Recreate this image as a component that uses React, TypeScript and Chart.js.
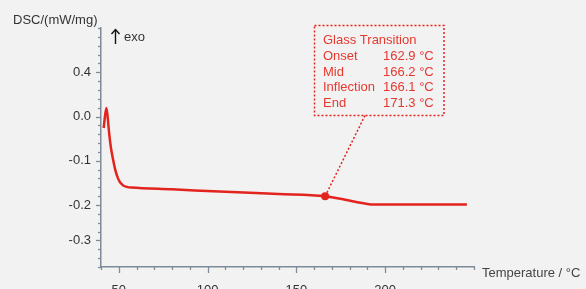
import React, { useEffect, useRef } from "react";
import { Chart, registerables } from "chart.js";
Chart.register(...registerables);

// DSC curve (temperature °C, DSC signal on the plotted linear scale)
const temperature = [41.5, 43.0, 43.6, 44.4, 45.5, 46.8, 48.0, 49.4, 50.5, 51.7, 53.0, 55, 57, 80, 110, 140, 166.2, 170, 176.3, 181, 185.9, 190, 193.3, 200, 246];
const dsc = [-0.026, 0.019, 0.005, -0.03, -0.068, -0.097, -0.12, -0.138, -0.147, -0.153, -0.157, -0.1595, -0.1605, -0.1645, -0.17, -0.1748, -0.18, -0.1825, -0.187, -0.191, -0.195, -0.1975, -0.199, -0.199, -0.199];

// Glass transition marker
const glassMidTemp = 166.2;
const glassMidDsc = -0.18;
const glassLabels = ["Onset", "Mid", "Inflection", "End"];
const glassValues = ["162.9 °C", "166.2 °C", "166.1 °C", "171.3 °C"];

// Axis ticks
const xMajorTicks = [50, 100, 150, 200];
const xMin = 40;
const xMax = 250;
const xMinorStep = 10;
const yMajorTickValues = [0.1, 0, -0.1, -0.2, -0.28];
const yMajorTickLabels = ["0.4", "0.0", "-0.1", "-0.2", "-0.3"];
const yMin = -0.34;
const yMax = 0.2;
const yMinorStep = 0.02;

const RED = "#e3231d";
const AXIS = "#7d8a97";
const TEXT = "#333333";
const BG = "#f2f2f2";
const FONT = "'Liberation Sans', Arial, sans-serif";

function findMajorY(v: number): number {
  for (let i = 0; i < yMajorTickValues.length; i++) {
    if (Math.abs(yMajorTickValues[i] - v) < 1e-6) return i;
  }
  return -1;
}

export default function App() {
  const ref = useRef<HTMLCanvasElement | null>(null);

  useEffect(() => {
    document.body.style.margin = "0";
    document.body.style.background = BG;
    const canvas = ref.current!;

    const decor = {
      id: "decor",
      beforeDraw(chart: any) {
        const ctx = chart.ctx;
        ctx.save();
        ctx.fillStyle = BG;
        ctx.fillRect(0, 0, chart.width, chart.height);
        ctx.restore();
      },
      afterDraw(chart: any) {
        const ctx = chart.ctx;
        const xs = chart.scales.x;
        const ys = chart.scales.y;
        const area = chart.chartArea;
        ctx.save();
        // tick marks
        ctx.strokeStyle = AXIS;
        ctx.lineWidth = 1.3;
        ys.ticks.forEach((t: any) => {
          const py = Math.round(ys.getPixelForValue(t.value)) + 0.5;
          const major = findMajorY(t.value) >= 0;
          ctx.beginPath();
          ctx.moveTo(area.left, py);
          ctx.lineTo(area.left - (major ? 5 : 3), py);
          ctx.stroke();
        });
        xs.ticks.forEach((t: any) => {
          const px = Math.round(xs.getPixelForValue(t.value)) + 0.5;
          const major = xMajorTicks.includes(t.value);
          ctx.beginPath();
          ctx.moveTo(px, area.bottom);
          ctx.lineTo(px, area.bottom + (major ? 6 : 3));
          ctx.stroke();
        });
        // titles
        ctx.fillStyle = TEXT;
        ctx.font = `13px ${FONT}`;
        ctx.textBaseline = "alphabetic";
        ctx.textAlign = "left";
        ctx.fillText("DSC/(mW/mg)", 13, 24);
        ctx.fillStyle = "#444";
        ctx.fillText("Temperature / °C", 482, 277);
        // exo arrow
        ctx.strokeStyle = "#111";
        ctx.lineWidth = 1.4;
        ctx.beginPath();
        ctx.moveTo(115.5, 44);
        ctx.lineTo(115.5, 30);
        ctx.stroke();
        ctx.beginPath();
        ctx.moveTo(111.5, 34);
        ctx.lineTo(115.5, 29.5);
        ctx.lineTo(119.5, 34);
        ctx.stroke();
        ctx.fillStyle = TEXT;
        ctx.fillText("exo", 124, 41);
        // annotation box
        const bx = 314.5, by = 25.5, bw = 129.5, bh = 90;
        ctx.strokeStyle = RED;
        ctx.lineWidth = 1.5;
        ctx.setLineDash([2, 2]);
        ctx.strokeRect(bx, by, bw, bh);
        const ppx = xs.getPixelForValue(glassMidTemp);
        const ppy = ys.getPixelForValue(glassMidDsc);
        ctx.beginPath();
        ctx.moveTo(365, by + bh);
        ctx.lineTo(ppx, ppy);
        ctx.stroke();
        ctx.setLineDash([]);
        ctx.fillStyle = "#e5392f";
        ctx.font = `13px ${FONT}`;
        ctx.fillText("Glass Transition", 323, 44);
        glassLabels.forEach((l, i) => {
          const yy = 60 + i * 15.7;
          ctx.fillText(l, 323, yy);
          ctx.fillText(glassValues[i], 383, yy);
        });
        ctx.restore();
      },
    };

    const chart = new Chart(canvas, {
      type: "line",
      data: {
        datasets: [
          {
            data: temperature.map((t, i) => ({ x: t, y: dsc[i] })),
            borderColor: RED,
            borderWidth: 2.5,
            pointRadius: 0,
            cubicInterpolationMode: "monotone",
            fill: false,
          },
          {
            data: [{ x: glassMidTemp, y: glassMidDsc }],
            showLine: false,
            pointRadius: 4,
            pointBackgroundColor: RED,
            pointBorderColor: RED,
            pointBorderWidth: 0,
          },
        ],
      },
      options: {
        animation: false,
        responsive: false,
        events: [],
        layout: { padding: { left: 0, top: 28, right: 112, bottom: 0 } },
        plugins: { legend: { display: false }, tooltip: { enabled: false } },
        scales: {
          x: {
            type: "linear",
            min: xMin,
            max: xMax,
            afterFit(s: any) {
              s.height = 22;
            },
            afterBuildTicks(s: any) {
              const arr = [];
              for (let v = xMin; v <= xMax + 1e-9; v += xMinorStep) arr.push({ value: v });
              s.ticks = arr;
            },
            grid: { display: false, drawTicks: false },
            border: { display: true, color: AXIS, width: 1.5 },
            ticks: {
              autoSkip: false,
              maxRotation: 0,
              padding: 16,
              color: TEXT,
              font: { size: 13, family: FONT },
              callback: (v: any) => (xMajorTicks.includes(v) ? String(v) : ""),
            },
          },
          y: {
            type: "linear",
            min: yMin,
            max: yMax,
            afterFit(s: any) {
              s.width = 101;
            },
            afterBuildTicks(s: any) {
              const arr = [];
              const n = Math.round((yMax - yMin) / yMinorStep);
              for (let i = 0; i <= n; i++) arr.push({ value: Math.round((yMin + i * yMinorStep) * 1000) / 1000 });
              s.ticks = arr;
            },
            grid: { display: false, drawTicks: false },
            border: { display: true, color: AXIS, width: 1.5 },
            ticks: {
              autoSkip: false,
              padding: 10,
              color: TEXT,
              font: { size: 13, family: FONT },
              callback: (v: any) => {
                const i = findMajorY(v);
                return i >= 0 ? yMajorTickLabels[i] : "";
              },
            },
          },
        },
      },
      plugins: [decor],
    } as any);
    return () => chart.destroy();
  }, []);

  return (
    <div style={{ position: "fixed", left: 0, top: 0, width: 586, height: 289, background: BG }}>
      <canvas ref={ref} width={586} height={289} style={{ display: "block", width: 586, height: 289 }} />
    </div>
  );
}
